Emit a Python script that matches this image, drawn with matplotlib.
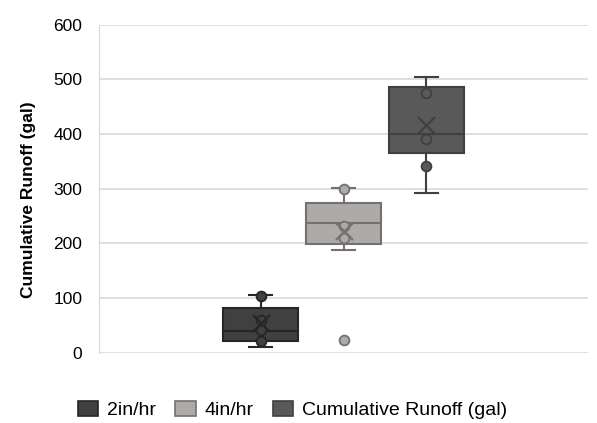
import matplotlib
matplotlib.use("Agg")
import matplotlib.pyplot as plt
from matplotlib.patches import Patch

plt.rcParams['font.family'] = ['Liberation Sans', 'DejaVu Sans']

series = ['2in/hr', '4in/hr', 'Cumulative Runoff (gal)']
whislo = [11, 187, 292]
q1 = [22, 198, 366]
med = [40, 238, 400]
q3 = [82, 274, 485]
whishi = [106, 302, 504]
means = [54, 222, 417]
points = [[21, 41, 60, 104], [210, 232, 300], [342, 391, 475]]
outliers = [[], [24], []]

fills = ['#404040', '#AEAAAA', '#595959']
edges = ['#262626', '#767171', '#404040']
positions = [-1, 0, 1]

fig = plt.figure(figsize=(5.97, 4.23), dpi=100)
ax = fig.add_axes([0.166, 0.166, 0.819, 0.776])

for i in range(3):
    st = [dict(whislo=whislo[i], q1=q1[i], med=med[i], q3=q3[i],
               whishi=whishi[i], fliers=[], label=series[i])]
    ax.bxp(st, positions=[positions[i]], widths=0.9, patch_artist=True,
           showfliers=False, zorder=3,
           boxprops=dict(facecolor=fills[i], edgecolor=edges[i], linewidth=1.5),
           medianprops=dict(color=edges[i], linewidth=1.5),
           whiskerprops=dict(color=edges[i], linewidth=1.5),
           capprops=dict(color=edges[i], linewidth=1.5), capwidths=0.28)
    ax.scatter([positions[i]] * len(points[i]), points[i], s=50,
               facecolor=fills[i], edgecolor=edges[i], linewidth=1.3, zorder=4)
    if outliers[i]:
        ax.scatter([positions[i]] * len(outliers[i]), outliers[i], s=50,
                   facecolor=fills[i], edgecolor=edges[i], linewidth=1.3, zorder=4)
    ax.scatter([positions[i]], [means[i]], marker='x', s=150,
               color=edges[i], linewidth=1.6, zorder=5)

ax.set_xlim(-2.95, 2.95)
ax.set_ylim(0, 600)
ax.set_yticks(range(0, 601, 100))
ax.set_xticks([])
ax.grid(axis='y', color='#D9D9D9', linewidth=1.2, zorder=0)
ax.set_axisbelow(True)
for s in ['top', 'right', 'bottom']:
    ax.spines[s].set_visible(False)
ax.spines['left'].set_color('#D9D9D9')
ax.tick_params(axis='y', length=0, labelsize=12.5, colors='black', pad=12)
ax.set_ylabel('Cumulative Runoff (gal)', fontsize=12.5, fontweight='bold')
ax.yaxis.set_label_coords(-0.13, 0.466)

handles = [Patch(facecolor=fills[i], edgecolor=edges[i], linewidth=1.2, label=series[i])
           for i in range(3)]
fig.legend(handles=handles, loc='center', bbox_to_anchor=(0.49, 0.031), ncol=3,
           frameon=False, fontsize=14, handlelength=1.05, handleheight=0.85,
           columnspacing=1.0, handletextpad=0.45)

fig.savefig('out.png', dpi=100)
